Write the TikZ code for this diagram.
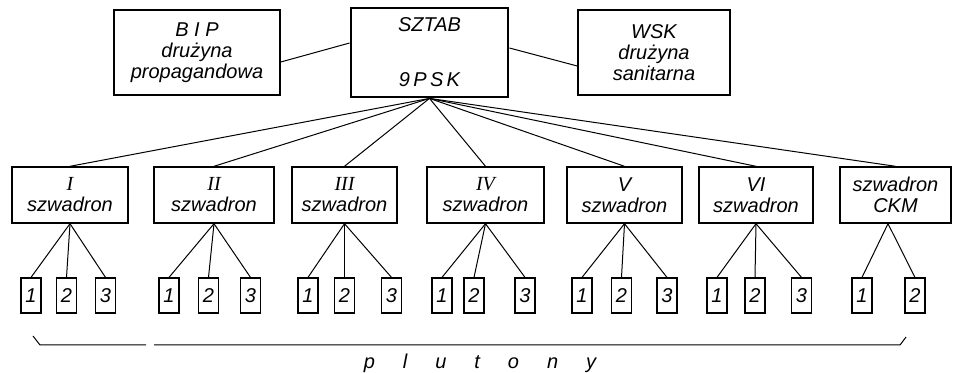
\documentclass[tikz,border=0pt]{standalone}
\usepackage{fontspec}
\setmainfont{Liberation Sans}
\newfontfamily\romfont{Liberation Serif}
\begin{document}
\begin{tikzpicture}[x=0.5pt,y=-0.5pt,line width=0.5pt,
        every node/.style={font=\itshape\fontsize{10}{10.5}\selectfont,align=center,inner sep=0pt},
        box/.style={draw,line width=0.8pt,minimum height=42.5pt},
        sqbox/.style={draw,line width=0.7pt,minimum height=28pt},
        plbox/.style={draw,line width=0.6pt,minimum width=10pt,minimum height=17.5pt}]
        \useasboundingbox (0,0) rectangle (953,373);
        \node[box,minimum width=83pt] (B) at (197,52.5) {B I P\\drużyna\\propagandowa};
        \node[box,line width=1.4pt,minimum width=78.5pt,minimum height=44.5pt] (S) at (429.5,52.5) {SZTAB\\[17pt]9\,P\,S\,K};
        \node[box,minimum width=76pt] (W) at (654,52.5) {WSK\\drużyna\\sanitarna};
        \node[sqbox,minimum width=58pt] (I) at (70,195) {{\romfont I}\\szwadron};
        \node[sqbox,minimum width=60pt] (II) at (214,195) {{\romfont II}\\szwadron};
        \node[sqbox,minimum width=52.5pt] (III) at (344.5,195) {{\romfont III}\\szwadron};
        \node[sqbox,minimum width=58.5pt] (IV) at (485.5,195) {{\romfont IV}\\szwadron};
        \node[sqbox,minimum width=57.5pt] (V) at (624.5,195) {V\\szwadron};
        \node[sqbox,minimum width=57pt] (VI) at (756,195) {VI\\szwadron};
        \node[sqbox,minimum width=55.5pt] (CKM) at (895.5,195) {szwadron\\CKM};
        \node[plbox] (I1) at (31,295.5) {1}; \node[plbox] (I2) at (66.5,295.5) {2}; \node[plbox] (I3) at (105.5,295.5) {3};
        \node[plbox] (II1) at (169,295.5) {1}; \node[plbox] (II2) at (208.5,295.5) {2}; \node[plbox] (II3) at (250.5,295.5) {3};
        \node[plbox] (III1) at (308,295.5) {1}; \node[plbox] (III2) at (344.5,295.5) {2}; \node[plbox] (III3) at (391.5,295.5) {3};
        \node[plbox] (IV1) at (442,295.5) {1}; \node[plbox] (IV2) at (474,295.5) {2}; \node[plbox] (IV3) at (525,295.5) {3};
        \node[plbox] (V1) at (582,295.5) {1}; \node[plbox] (V2) at (621.5,295.5) {2}; \node[plbox] (V3) at (667,295.5) {3};
        \node[plbox] (VI1) at (717,295.5) {1}; \node[plbox] (VI2) at (755,295.5) {2}; \node[plbox] (VI3) at (801.5,295.5) {3};
        \node[plbox] (CKM1) at (862,295.5) {1}; \node[plbox] (CKM2) at (915,295.5) {2};
        \node (P) at (480,363) {p\hspace{14pt}l\hspace{14pt}u\hspace{14pt}t\hspace{14pt}o\hspace{14pt}n\hspace{14pt}y};
        \draw ([yshift=-4.75pt]B.east) --([yshift=4.75pt]S.west);
        \draw ([yshift=2.25pt]S.east) --([yshift=-6.75pt]W.west);
        \draw (S.south) --(I.north); \draw (S.south) --(II.north); \draw (S.south) --(III.north);
        \draw (S.south) --(IV.north); \draw (S.south) --(V.north); \draw (S.south) --(VI.north);
        \draw (S.south) --(CKM.north);
        \draw (I.south) --(I1.north); \draw (I.south) --(I2.north); \draw (I.south) --(I3.north);
        \draw (II.south) --(II1.north); \draw (II.south) --(II2.north); \draw (II.south) --(II3.north);
        \draw (III.south) --(III1.north); \draw (III.south) --(III2.north); \draw (III.south) --(III3.north);
        \draw (IV.south) --(IV1.north); \draw (IV.south) --(IV2.north); \draw (IV.south) --(IV3.north);
        \draw (V.south) --(V1.north); \draw (V.south) --(V2.north); \draw (V.south) --(V3.north);
        \draw (VI.south) --(VI1.north); \draw (VI.south) --(VI2.north); \draw (VI.south) --(VI3.north);
        \draw ([xshift=-3.75pt]CKM.south) --(CKM1.north); \draw ([xshift=-3.75pt]CKM.south) --(CKM2.north);
        \draw (33,336) --(40,345) --(146,345);
        \draw (154,345) --(900,345) --(906,337);
\end{tikzpicture}
\end{document}
